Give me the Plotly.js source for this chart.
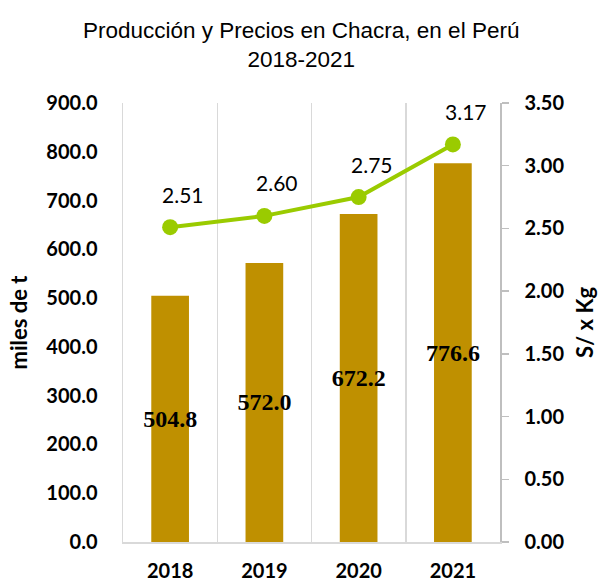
<!DOCTYPE html>
<html><head><meta charset="utf-8">
<script src="https://cdn.plot.ly/plotly-3.0.1.min.js"></script>
<style>html,body{margin:0;padding:0;background:#fff}#c{width:606px;height:582px}</style>
</head><body><div id="c"></div>
<script>
const years = ['2018','2019','2020','2021'];
const produccion = [504.8, 572.0, 672.2, 776.6];
const precios = [2.51, 2.60, 2.75, 3.17];
const prodLabels = ['504.8','572.0','672.2','776.6'];
const precioLabels = ['2.51','2.60','2.75','3.17'];

const bars = {
  type:'bar', x:years, y:produccion, width:0.4,
  marker:{color:'#BF9000'},
  text:prodLabels, textposition:'inside', insidetextanchor:'middle', constraintext:'none',
  textfont:{family:'Liberation Serif, Times New Roman, serif', size:24, color:'#000', weight:'bold'},
  textangle:0, cliponaxis:false, hoverinfo:'none'
};
const line = {
  type:'scatter', mode:'lines+markers', x:years, y:precios, yaxis:'y2',
  line:{color:'#9ACB00', width:4}, marker:{color:'#9ACB00', size:16},
  hoverinfo:'none'
};
const annotations = years.map((yr,i)=>({
  x:i, y:precios[i], xref:'x', yref:'y2', text:precioLabels[i], showarrow:false,
  yshift:33, xshift:13, font:{family:'Lato, Carlito, sans-serif', size:21, color:'#000'}
}));
const tickFont = {family:'Lato, sans-serif', size:20, color:'#000', weight:'bold'};
const layout = {
  width:606, height:582,
  margin:{l:123, r:106, t:103, b:40},
  paper_bgcolor:'#fff', plot_bgcolor:'#fff',
  showlegend:false,
  title:{text:'Producción y Precios en Chacra, en el Perú<br>2018-2021', x:0.497, xanchor:'center', yref:'container', y:0.935, yanchor:'middle',
    font:{family:'Liberation Sans, Arial, sans-serif', size:22.5, color:'#000'}},
  xaxis:{type:'category', range:[-0.5,3.5], tickson:'boundaries', showgrid:true, gridcolor:'#D9D9D9', gridwidth:1.5,
    showline:true, linecolor:'#D9D9D9', linewidth:1.5, ticks:'', mirror:false, tickangle:0,
    tickfont:tickFont, ticklabelstandoff:10},
  yaxis:{range:[0,900], dtick:100, tickformat:'.1f', showgrid:false, zeroline:false,
    showline:true, linecolor:'#D9D9D9', linewidth:1.5, ticks:'',
    tickfont:tickFont, ticklabelstandoff:20,
    title:{text:'miles de t', standoff:12, font:{family:'Lato, sans-serif', size:22, color:'#000', weight:'bold'}}},
  yaxis2:{overlaying:'y', side:'right', range:[0,3.5], dtick:0.5, tickformat:'.2f', showgrid:false, zeroline:false,
    showline:true, linecolor:'#BFBFBF', linewidth:1.5, ticks:'outside', ticklen:7, tickcolor:'#BFBFBF', tickwidth:1.5,
    tickfont:tickFont, ticklabelstandoff:12,
    title:{text:'S/ x Kg', standoff:14, font:{family:'Lato, sans-serif', size:22, color:'#000', weight:'bold'}}},
  annotations:annotations
};
Plotly.newPlot('c',[bars,line],layout,{displayModeBar:false, staticPlot:true});
</script></body></html>
